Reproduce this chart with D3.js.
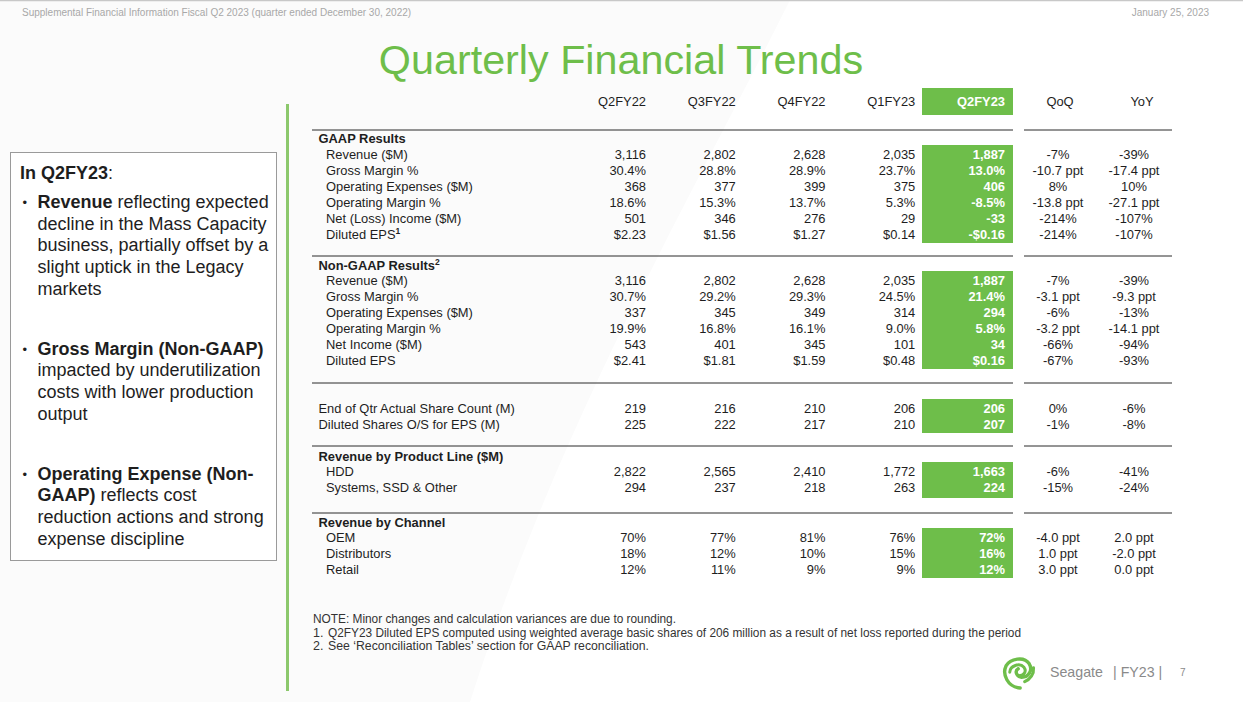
<!DOCTYPE html>
<html>
<head>
<meta charset="utf-8">
<script src="https://cdn.jsdelivr.net/npm/d3@7"></script>
<style>
  html, body { margin: 0; padding: 0; background: #ffffff; }
  svg { display: block; }
  text { font-family: "Liberation Sans", Arial, sans-serif; }
</style>
</head>
<body>
<script>
// ---------------- DATA ----------------
const periods = ["Q2FY22", "Q3FY22", "Q4FY22", "Q1FY23", "Q2FY23"];
const changeCols = ["QoQ", "YoY"];

const sectionTitles = ["GAAP Results", "Non-GAAP Results", "", "Revenue by Product Line ($M)", "Revenue by Channel"];
const sectionSups   = ["", "2", "", "", ""];
const sectionSizes  = [6, 6, 2, 2, 3];

const rowLabels = [
  "Revenue ($M)", "Gross Margin %", "Operating Expenses ($M)", "Operating Margin %", "Net (Loss) Income ($M)", "Diluted EPS",
  "Revenue ($M)", "Gross Margin %", "Operating Expenses ($M)", "Operating Margin %", "Net Income ($M)", "Diluted EPS",
  "End of Qtr Actual Share Count (M)", "Diluted Shares O/S for EPS (M)",
  "HDD", "Systems, SSD & Other",
  "OEM", "Distributors", "Retail"
];
const rowSups = ["", "", "", "", "", "1", "", "", "", "", "", "", "", "", "", "", "", "", ""];

const q2fy22 = ["3,116", "30.4%", "368", "18.6%", "501", "$2.23", "3,116", "30.7%", "337", "19.9%", "543", "$2.41", "219", "225", "2,822", "294", "70%", "18%", "12%"];
const q3fy22 = ["2,802", "28.8%", "377", "15.3%", "346", "$1.56", "2,802", "29.2%", "345", "16.8%", "401", "$1.81", "216", "222", "2,565", "237", "77%", "12%", "11%"];
const q4fy22 = ["2,628", "28.9%", "399", "13.7%", "276", "$1.27", "2,628", "29.3%", "349", "16.1%", "345", "$1.59", "210", "217", "2,410", "218", "81%", "10%", "9%"];
const q1fy23 = ["2,035", "23.7%", "375", "5.3%", "29", "$0.14", "2,035", "24.5%", "314", "9.0%", "101", "$0.48", "206", "210", "1,772", "263", "76%", "15%", "9%"];
const q2fy23 = ["1,887", "13.0%", "406", "-8.5%", "-33", "-$0.16", "1,887", "21.4%", "294", "5.8%", "34", "$0.16", "206", "207", "1,663", "224", "72%", "16%", "12%"];
const qoq    = ["-7%", "-10.7 ppt", "8%", "-13.8 ppt", "-214%", "-214%", "-7%", "-3.1 ppt", "-6%", "-3.2 ppt", "-66%", "-67%", "0%", "-1%", "-6%", "-15%", "-4.0 ppt", "1.0 ppt", "3.0 ppt"];
const yoy    = ["-39%", "-17.4 ppt", "10%", "-27.1 ppt", "-107%", "-107%", "-39%", "-9.3 ppt", "-13%", "-14.1 ppt", "-94%", "-93%", "-6%", "-8%", "-41%", "-24%", "2.0 ppt", "-2.0 ppt", "0.0 ppt"];

const periodValues = [q2fy22, q3fy22, q4fy22, q1fy23, q2fy23];
const changeValues = [qoq, yoy];

const commentaryTitle = "In Q2FY23";
const bullets = [
  [[["b", "Revenue"], ["n", " reflecting expected"]], [["n", "decline in the Mass Capacity"]], [["n", "business, partially offset by a"]], [["n", "slight uptick in the Legacy"]], [["n", "markets"]]],
  [[["b", "Gross Margin (Non-GAAP)"]], [["n", "impacted by underutilization"]], [["n", "costs with lower production"]], [["n", "output"]]],
  [[["b", "Operating Expense (Non-"]], [["b", "GAAP)"], ["n", " reflects cost"]], [["n", "reduction actions and strong"]], [["n", "expense discipline"]]]
];

const notes = [
  "NOTE: Minor changes and calculation variances are due to rounding.",
  "Q2FY23 Diluted EPS computed using weighted average basic shares of 206 million as a result of net loss reported during the period",
  "See  \u2018Reconciliation Tables\u2019 section for GAAP reconciliation."
];

// ---------------- LAYOUT ----------------
const W = 1243, H = 702;
const GREEN = "#6ebe4a";
const INK = "#1e1e1e";
const FS = 12.9;

const svg = d3.select("body").append("svg").attr("width", W).attr("height", H);

// faint background swoosh
svg.append("path")
  .attr("d", "M0,0 L790,0 C690,200 560,420 470,702 L0,702 Z")
  .attr("fill", "#fbfbfb");
svg.append("line").attr("x1", 0).attr("x2", W).attr("y1", 0.5).attr("y2", 0.5)
  .attr("stroke", "#c8c8c8").attr("stroke-width", 1.5);

// top header
svg.append("text").attr("x", 22).attr("y", 15.5).attr("font-size", 10).attr("fill", "#a8a8a8")
  .text("Supplemental Financial Information Fiscal Q2 2023 (quarter ended December 30, 2022)");
svg.append("text").attr("x", 1209).attr("y", 15.5).attr("font-size", 10).attr("fill", "#a8a8a8")
  .attr("text-anchor", "end").text("January 25, 2023");

// title
svg.append("text").attr("x", 621).attr("y", 74).attr("font-size", 41.3).attr("fill", GREEN)
  .attr("text-anchor", "middle").text("Quarterly Financial Trends");

// green vertical bar
svg.append("rect").attr("x", 286).attr("y", 104).attr("width", 3).attr("height", 587).attr("fill", "#8cc86c");

// scales
const x = d3.scalePoint().domain(periods).range([646, 1005]);
const xc = d3.scalePoint().domain(changeCols).range([1058, 1134]);
const xcHead = d3.scalePoint().domain(changeCols).range([1060, 1142]);
const boxX0 = 922, boxX1 = 1013;

const sectionHeaderY = [138, 265, null, 456, 522];
const sectionFirstRowY = [154, 280, 408, 471, 537];
const rowStep = 16;
const ruleY = [130, 256, 383, 446, 513];
const labelX = 326, sectionX = 318.5;
const base = 4.6;

// column header
svg.append("rect").attr("x", boxX0).attr("y", 88).attr("width", boxX1 - boxX0).attr("height", 27).attr("fill", GREEN);
svg.selectAll("text.colhead").data(periods).join("text")
  .attr("class", "colhead")
  .attr("x", d => x(d))
  .attr("y", 101 + base)
  .attr("text-anchor", "end")
  .attr("font-size", FS)
  .attr("font-weight", d => d === "Q2FY23" ? "bold" : "normal")
  .attr("fill", d => d === "Q2FY23" ? "#ffffff" : INK)
  .text(d => d);
svg.selectAll("text.chhead").data(changeCols).join("text")
  .attr("class", "chhead")
  .attr("x", d => xcHead(d)).attr("y", 101 + base)
  .attr("text-anchor", "middle").attr("font-size", FS).attr("fill", INK)
  .text(d => d);

// rules
ruleY.forEach(y => {
  svg.append("line").attr("x1", 312).attr("x2", boxX1).attr("y1", y).attr("y2", y).attr("stroke", "#2a2a2a").attr("stroke-width", 1);
  svg.append("line").attr("x1", 1024).attr("x2", 1172).attr("y1", y).attr("y2", y).attr("stroke", "#2a2a2a").attr("stroke-width", 1);
});

// sections
let rowIndex = 0;
sectionSizes.forEach((n, s) => {
  const yRow = d3.scaleLinear().domain([0, 1]).range([sectionFirstRowY[s], sectionFirstRowY[s] + rowStep]);
  const idx = d3.range(rowIndex, rowIndex + n);

  svg.append("rect").attr("x", boxX0).attr("y", yRow(0) - 9)
    .attr("width", boxX1 - boxX0).attr("height", yRow(n - 1) - yRow(0) + 18 + (s === 3 ? 2 : 0))
    .attr("fill", GREEN);

  if (sectionTitles[s]) {
    const t = svg.append("text").attr("x", sectionX).attr("y", sectionHeaderY[s] + base)
      .attr("font-size", FS).attr("font-weight", "bold").attr("fill", INK).text(sectionTitles[s]);
    if (sectionSups[s]) t.append("tspan").attr("dy", -5).attr("font-size", 8.5).text(sectionSups[s]);
  }

  const g = svg.append("g");
  idx.forEach((ri, k) => {
    const y = yRow(k) + base;
    const lt = g.append("text").attr("x", sectionTitles[s] ? labelX : sectionX).attr("y", y)
      .attr("font-size", FS).attr("fill", INK).text(rowLabels[ri]);
    if (rowSups[ri]) lt.append("tspan").attr("dy", -5).attr("font-size", 8.5).attr("font-weight", "bold").text(rowSups[ri]);

    periods.forEach((p, pi) => {
      const cur = p === "Q2FY23";
      g.append("text").attr("x", x(p)).attr("y", y)
        .attr("text-anchor", "end").attr("font-size", FS)
        .attr("font-weight", cur ? "bold" : "normal")
        .attr("fill", cur ? "#ffffff" : INK)
        .text(periodValues[pi][ri]);
    });
    changeCols.forEach((c, ci) => {
      g.append("text").attr("x", xc(c)).attr("y", y)
        .attr("text-anchor", "middle").attr("font-size", FS).attr("fill", INK)
        .text(changeValues[ci][ri]);
    });
  });
  rowIndex += n;
});

// commentary box
svg.append("rect").attr("x", 10.5).attr("y", 152.5).attr("width", 266).attr("height", 408)
  .attr("fill", "#ffffff").attr("stroke", "#9a9a9a").attr("stroke-width", 1);
const ct = svg.append("text").attr("x", 20).attr("y", 179).attr("font-size", 18).attr("fill", INK);
ct.append("tspan").attr("font-weight", "bold").text(commentaryTitle);
ct.append("tspan").text(":");

const bulletStartY = [208, 354.5, 479.5];
const lineH = 21.7;
bullets.forEach((lines, bi) => {
  svg.append("text").attr("x", 22.5).attr("y", bulletStartY[bi] - 1).attr("font-size", 13).attr("fill", INK).text("\u2022");
  lines.forEach((segs, li) => {
    const t = svg.append("text").attr("x", 37.5).attr("y", bulletStartY[bi] + li * lineH)
      .attr("font-size", 18).attr("fill", INK);
    segs.forEach(([kind, str]) => {
      t.append("tspan").attr("font-weight", kind === "b" ? "bold" : "normal").text(str);
    });
  });
});

// footnotes
const noteFont = '"Liberation Sans Narrow", "Liberation Sans", Arial, sans-serif';
const noteY = [623, 636.5, 650];
const noteLen = [363, 693, 321];
svg.append("text").attr("x", 313).attr("y", noteY[0]).attr("font-size", 12.5).attr("fill", "#333")
  .style("font-family", noteFont)
  .attr("textLength", noteLen[0]).attr("lengthAdjust", "spacingAndGlyphs").text(notes[0]);
[1, 2].forEach(i => {
  svg.append("text").attr("x", 313).attr("y", noteY[i]).attr("font-size", 12.5).attr("fill", "#333")
    .style("font-family", noteFont).text(i + ".");
  svg.append("text").attr("x", 328).attr("y", noteY[i]).attr("font-size", 12.5).attr("fill", "#333")
    .style("font-family", noteFont)
    .attr("textLength", noteLen[i]).attr("lengthAdjust", "spacingAndGlyphs").text(notes[i]);
});

// footer logo (stylised swirl)
const logo = svg.append("g").attr("transform", "translate(1018,672) rotate(-15)")
  .attr("fill", "none").attr("stroke", GREEN).attr("stroke-linecap", "round");
logo.append("path").attr("stroke-width", 3.4)
  .attr("d", "M-2,16 C-14,12 -16,-2 -10,-9 C-4,-15 10,-14 13,-5 C15,2 9,8 2,6 C-3,4 -3,-2 1,-3");
logo.append("path").attr("stroke-width", 3.0)
  .attr("d", "M-8,-2 C-6,-8 4,-9 7,-3 C9,2 4,5 1,4");
logo.append("path").attr("stroke-width", 3.2)
  .attr("d", "M4,11 C10,10 15,6 16,0");

svg.append("text").attr("x", 1050).attr("y", 677).attr("font-size", 14.2).attr("fill", "#8a8a8a").text("Seagate");
svg.append("text").attr("x", 1113).attr("y", 677).attr("font-size", 14.2).attr("fill", "#8a8a8a").text("| FY23 |");
svg.append("text").attr("x", 1180).attr("y", 676).attr("font-size", 10).attr("fill", "#8a8a8a").text("7");
</script>
</body>
</html>
